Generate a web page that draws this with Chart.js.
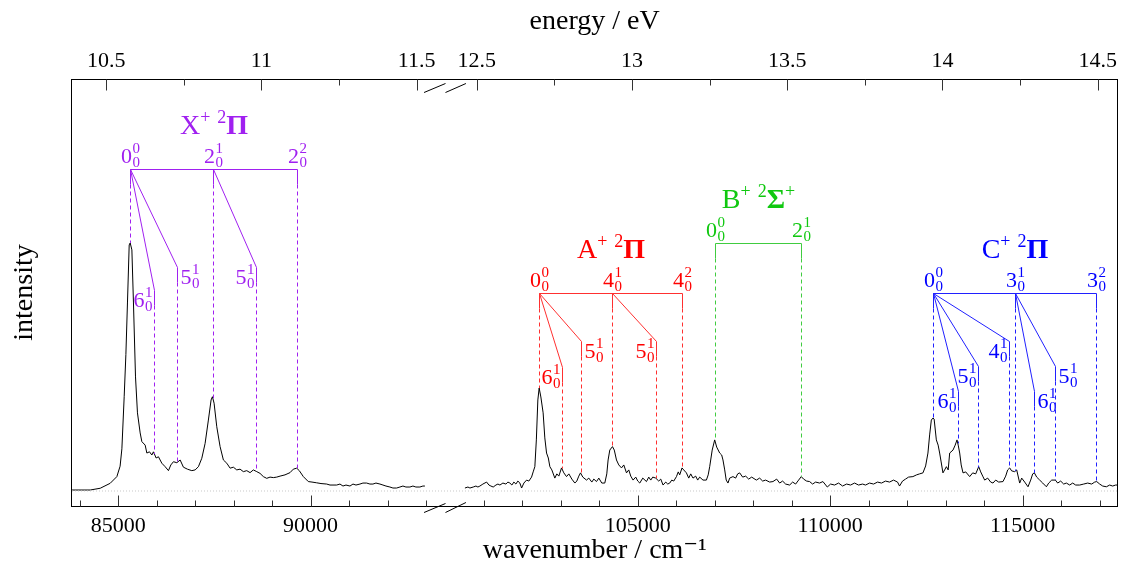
<!DOCTYPE html>
<html>
<head>
<meta charset="utf-8">
<script src="https://cdn.jsdelivr.net/npm/chart.js@4.4.1/dist/chart.umd.min.js"></script>
<style>
html,body{margin:0;padding:0;background:#fff;}
#wrap{width:1122px;height:569px;position:relative;}
</style>
</head>
<body>
<div id="wrap"><canvas id="c" width="1122" height="569"></canvas></div>
<script>
const FONT = "'Liberation Serif', 'DejaVu Serif', serif";
const CM_PER_EV = 8065.544;

// ---------- spectrum (wavenumber / cm^-1, normalised intensity) ----------
const wnLeft = [83800,84273,84533,84792,84966,85050,85096,85156,85200,85241,
  85286,85312,85356,85397,85450,85501,85571,85615,85701,85745,
  85813,85875,85916,85986,86046,86134,86220,86306,86368,86436,
  86524,86610,86695,86799,86913,86999,87085,87173,87259,87344,
  87414,87448,87492,87562,87648,87734,87822,87908,87993,88081,
  88167,88253,88341,88427,88512,88601,88686,88772,88860,88946,
  89032,89120,89206,89335,89465,89551,89639,89706,89811,89940,
  90036,90158,90270,90418,90504,90677,90763,90841,90919,91023,
  91101,91179,91282,91360,91456,91542,91620,91698,91802,91880,
  91958,92061,92139,92235,92321,92399,92477,92581,92659,92736,
  92840,92918,92970];
const intLeft = [0.004,0.004,0.011,0.031,0.058,0.100,0.170,0.380,0.550,0.758,
  0.992,1.000,0.972,0.758,0.460,0.315,0.234,0.199,0.185,0.153,
  0.158,0.145,0.158,0.133,0.138,0.112,0.098,0.082,0.105,0.118,
  0.114,0.125,0.096,0.088,0.082,0.085,0.098,0.132,0.192,0.286,
  0.367,0.380,0.354,0.259,0.179,0.125,0.112,0.092,0.096,0.085,
  0.088,0.078,0.082,0.074,0.085,0.078,0.071,0.058,0.051,0.056,
  0.054,0.056,0.060,0.065,0.074,0.088,0.092,0.082,0.058,0.038,
  0.036,0.033,0.030,0.028,0.024,0.024,0.028,0.020,0.024,0.020,
  0.028,0.024,0.028,0.032,0.032,0.028,0.028,0.032,0.028,0.024,
  0.020,0.016,0.012,0.012,0.016,0.020,0.016,0.016,0.020,0.016,
  0.016,0.020,0.020];

const wnRight = [100509,100587,100639,100724,100795,100846,100898,100976,101072,101132,
  101184,101244,101314,101366,101418,101496,101574,101626,101677,101729,
  101781,101833,101885,101937,101981,102041,102111,102170,102240,102282,
  102326,102365,102404,102438,102482,102541,102585,102630,102676,102716,
  102767,102845,102897,102949,103019,103079,103149,103209,103287,103365,
  103416,103468,103512,103572,103668,103728,103806,103858,103928,103988,
  104065,104143,104195,104229,104273,104343,104390,104447,104507,104577,
  104637,104707,104766,104818,104878,104948,105000,105052,105130,105226,
  105286,105337,105389,105467,105545,105597,105657,105727,105779,105831,
  105883,105935,106005,106052,106090,106150,106194,106264,106324,106376,
  106435,106505,106557,106609,106695,106783,106830,106869,106934,106999,
  107051,107129,107181,107214,107259,107298,107344,107388,107474,107544,
  107596,107648,107726,107804,107882,107960,108081,108167,108245,108323,
  108427,108513,108609,108687,108764,108842,108946,109024,109102,109180,
  109249,109309,109387,109465,109543,109621,109725,109811,109925,110010,
  110114,110218,110322,110426,110530,110633,110737,110841,110919,111023,
  111127,111231,111334,111438,111542,111646,111750,111802,111880,111958,
  112036,112149,112245,112323,112410,112480,112540,112584,112628,112670,
  112701,112758,112805,112844,112883,112930,112974,113019,113066,113105,
  113191,113248,113295,113326,113365,113404,113451,113521,113625,113703,
  113781,113859,113911,113963,114014,114092,114170,114230,114300,114378,
  114490,114560,114612,114664,114716,114794,114846,114924,114976,115054,
  115140,115210,115262,115306,115366,115444,115522,115618,115678,115756,
  115851,115911,115989,116067,116137,116223,116301,116379,116483,116587,
  116691,116795,116873,116925,117003,117081,117177,117262,117340,117418,
  117460];
const intRight = [0.012,0.016,0.012,0.016,0.020,0.016,0.020,0.028,0.036,0.024,
  0.020,0.016,0.024,0.028,0.024,0.032,0.028,0.036,0.032,0.024,
  0.036,0.028,0.040,0.032,0.012,0.032,0.044,0.040,0.056,0.077,
  0.098,0.206,0.367,0.415,0.379,0.315,0.214,0.153,0.133,0.098,
  0.085,0.052,0.069,0.060,0.093,0.073,0.058,0.069,0.048,0.032,
  0.040,0.060,0.073,0.056,0.044,0.052,0.036,0.048,0.038,0.052,
  0.032,0.032,0.069,0.125,0.165,0.179,0.165,0.125,0.105,0.093,
  0.105,0.073,0.085,0.060,0.044,0.056,0.040,0.032,0.052,0.038,
  0.056,0.044,0.056,0.052,0.040,0.048,0.024,0.036,0.028,0.032,
  0.044,0.040,0.058,0.077,0.065,0.093,0.085,0.073,0.052,0.069,
  0.052,0.060,0.044,0.056,0.044,0.044,0.065,0.098,0.165,0.206,
  0.177,0.153,0.145,0.125,0.085,0.044,0.032,0.052,0.058,0.052,
  0.069,0.073,0.056,0.060,0.048,0.056,0.044,0.052,0.040,0.044,
  0.036,0.038,0.048,0.032,0.040,0.028,0.024,0.036,0.028,0.044,
  0.058,0.048,0.040,0.038,0.028,0.036,0.032,0.038,0.016,0.028,
  0.024,0.032,0.020,0.028,0.024,0.032,0.024,0.028,0.024,0.032,
  0.028,0.036,0.032,0.040,0.036,0.044,0.036,0.020,0.040,0.048,
  0.056,0.058,0.065,0.069,0.073,0.101,0.153,0.226,0.286,0.294,
  0.290,0.206,0.185,0.153,0.117,0.073,0.085,0.098,0.085,0.153,
  0.165,0.185,0.206,0.185,0.153,0.105,0.073,0.077,0.058,0.073,
  0.069,0.098,0.077,0.060,0.044,0.052,0.036,0.032,0.044,0.036,
  0.038,0.060,0.085,0.093,0.081,0.078,0.085,0.032,0.052,0.036,
  0.017,0.044,0.069,0.073,0.056,0.044,0.032,0.017,0.032,0.044,
  0.044,0.032,0.040,0.028,0.032,0.024,0.032,0.024,0.024,0.028,
  0.032,0.028,0.036,0.038,0.028,0.020,0.017,0.024,0.020,0.024,
  0.024];

// ---------- axes ----------
const wnRange = [83800, 117460];
const wnBreak = [93000, 100509];
const wnTicks = [84000,85000,86000,87000,88000,89000,90000,91000,92000,93000,
  101000,102000,103000,104000,105000,106000,107000,108000,109000,110000,
  111000,112000,113000,114000,115000,116000,117000];
const evTicks = [10.5,10.75,11,11.25,11.5,12.5,12.75,13,13.25,13.5,13.75,14,14.25,14.5];

// ---------- vibronic assignments (cm^-1); labels are [main, sub, sup] ----------
const xProg = [85312, 87458, 89639];
const xProgLab = [['0','0','0'],['2','0','1'],['2','0','2']];
const xSubPos = [85942, 86524, 88575];
const xSubFrom = [0, 0, 1];
const xSubLab = [['6','0','1'],['5','0','1'],['5','0','1']];

const aProg = [102438, 104343, 106150];
const aProgLab = [['0','0','0'],['4','0','1'],['4','0','2']];
const aSubPos = [103027, 103512, 105467];
const aSubFrom = [0, 0, 1];
const aSubLab = [['6','0','1'],['5','0','1'],['5','0','1']];

const bProg = [106999, 109249];
const bProgLab = [['0','0','0'],['2','0','1']];
const bSubPos = [];
const bSubFrom = [];
const bSubLab = [];

const cProg = [112667, 114813, 116916];
const cProgLab = [['0','0','0'],['3','0','1'],['3','0','2']];
const cSubPos = [113316, 113852, 114657, 115299, 115844];
const cSubFrom = [0, 0, 0, 1, 1];
const cSubLab = [['6','0','1'],['5','0','1'],['4','0','1'],['6','0','1'],['5','0','1']];

const stateTitles = [
  [['X'],['+','sup'],[' '],['2','sup'],['Π']],
  [['A'],['+','sup'],[' '],['2','sup'],['Π']],
  [['B'],['+','sup'],[' '],['2','sup'],['Σ'],['+','sup']],
  [['C'],['+','sup'],[' '],['2','sup'],['Π']]
];

// ---------- layout / style of the assignment combs ----------
// 'right' = label right-aligned against the stub (sits on its left side)
const combStyle = [
  {text:'#A020F0', line:'#A020F0', comb:1.30, stubs:[0.81,0.905,0.905], sides:['right','left','right']},
  {text:'#FF0000', line:'#FF3030', comb:0.80, stubs:[0.50,0.605,0.605], sides:['right','left','right']},
  {text:'#10C810', line:'#40CC40', comb:1.00, stubs:[], sides:[]},
  {text:'#0000FF', line:'#2020FF', comb:0.80, stubs:[0.405,0.505,0.605,0.405,0.505], sides:['right','right','right','left','left']}
];

const systems = [
  {prog:xProg, progLab:xProgLab, subPos:xSubPos, subFrom:xSubFrom, subLab:xSubLab, title:stateTitles[0], st:combStyle[0]},
  {prog:aProg, progLab:aProgLab, subPos:aSubPos, subFrom:aSubFrom, subLab:aSubLab, title:stateTitles[1], st:combStyle[1]},
  {prog:bProg, progLab:bProgLab, subPos:bSubPos, subFrom:bSubFrom, subLab:bSubLab, title:stateTitles[2], st:combStyle[2]},
  {prog:cProg, progLab:cProgLab, subPos:cSubPos, subFrom:cSubFrom, subLab:cSubLab, title:stateTitles[3], st:combStyle[3]}
];

// ---------- broken linear scale ----------
const GAP_UNITS = 1010; // visual width of the axis break, in cm^-1 equivalents
function compress(v) {
  if (v <= wnBreak[0]) return v;
  if (v >= wnBreak[1]) return v - (wnBreak[1] - wnBreak[0]) + GAP_UNITS;
  return wnBreak[0] + (v - wnBreak[0]) / (wnBreak[1] - wnBreak[0]) * GAP_UNITS;
}
function decompress(u) {
  if (u <= wnBreak[0]) return u;
  if (u >= wnBreak[0] + GAP_UNITS) return u + (wnBreak[1] - wnBreak[0]) - GAP_UNITS;
  return wnBreak[0] + (u - wnBreak[0]) / GAP_UNITS * (wnBreak[1] - wnBreak[0]);
}
const LinearBase = Chart.LinearScale || Chart.registry.getScale('linear');
class BrokenScale extends LinearBase {
  getPixelForValue(value) {
    const a = compress(this.min), b = compress(this.max);
    return this.getPixelForDecimal((compress(value) - a) / (b - a));
  }
  getValueForPixel(pixel) {
    const a = compress(this.min), b = compress(this.max);
    return decompress(a + this.getDecimalForPixel(pixel) * (b - a));
  }
}
BrokenScale.id = 'broken';
BrokenScale.defaults = LinearBase.defaults;
Chart.register(BrokenScale);

// ---------- helpers ----------
function spectrumAt(w) {
  const xs = w <= wnBreak[0] ? wnLeft : wnRight;
  const ys = w <= wnBreak[0] ? intLeft : intRight;
  if (w <= xs[0]) return ys[0];
  for (let i = 1; i < xs.length; i++) {
    if (w <= xs[i]) {
      const t = (w - xs[i-1]) / (xs[i] - xs[i-1]);
      return ys[i-1] + t * (ys[i] - ys[i-1]);
    }
  }
  return ys[ys.length-1];
}
function seg(ctx, x1, y1, x2, y2, dash) {
  ctx.setLineDash(dash || []);
  ctx.beginPath(); ctx.moveTo(x1, y1); ctx.lineTo(x2, y2); ctx.stroke();
}
function drawRich(ctx, segs, cx, baseline, size, color) {
  const parts = segs.map(([t, kind]) => {
    const small = kind === 'sup';
    const fs = small ? Math.round(size * 0.66) : size;
    const bold = /[\u0391-\u03A9]/.test(t);
    const font = (bold ? 'bold ' : '') + fs + 'px ' + FONT;
    ctx.font = font;
    return {t, font, w: ctx.measureText(t).width, dy: small ? -Math.round(size * 0.4) : 0};
  });
  const total = parts.reduce((a, p) => a + p.w, 0);
  let x = cx - total / 2;
  ctx.fillStyle = color; ctx.textAlign = 'left'; ctx.textBaseline = 'alphabetic';
  parts.forEach(p => { ctx.font = p.font; ctx.fillText(p.t, x, baseline + p.dy); x += p.w; });
}
function drawLevel(ctx, lab, x, baseline, anchor, color) {
  const [main, sub, sup] = lab;
  ctx.font = '22px ' + FONT; const wm = ctx.measureText(main).width;
  ctx.font = '15px ' + FONT; const ws = Math.max(ctx.measureText(sub).width, ctx.measureText(sup).width);
  const tw = wm + ws + 0.5;
  const x0 = anchor === 'center' ? x - tw / 2 : (anchor === 'right' ? x - tw : x);
  ctx.fillStyle = color; ctx.textAlign = 'left'; ctx.textBaseline = 'alphabetic';
  ctx.font = '22px ' + FONT; ctx.fillText(main, x0, baseline);
  ctx.font = '15px ' + FONT;
  ctx.fillText(sup, x0 + wm + 0.5, baseline - 10);
  ctx.fillText(sub, x0 + wm + 0.5, baseline + 4);
}
const LEG = 15;

const assignmentPlugin = {
  id: 'assignments',
  afterDatasetsDraw(chart) {
    const ctx = chart.ctx, xs = chart.scales.x, ys = chart.scales.y;
    ctx.save();
    ctx.lineWidth = 1;
    systems.forEach(s => {
      const st = s.st;
      const cy = Math.round(ys.getPixelForValue(st.comb)) + 0.5;
      const px = s.prog.map(w => Math.round(xs.getPixelForValue(w)) + 0.5);
      ctx.strokeStyle = st.line;
      seg(ctx, px[0], cy, px[px.length-1], cy);
      px.forEach((x, i) => {
        seg(ctx, x, cy, x, cy + LEG);
        seg(ctx, x, cy + LEG, x, ys.getPixelForValue(spectrumAt(s.prog[i])), [4, 3]);
      });
      s.subPos.forEach((w, j) => {
        const x0 = px[s.subFrom[j]];
        const x1 = Math.round(xs.getPixelForValue(w)) + 0.5;
        const y1 = Math.round(ys.getPixelForValue(st.stubs[j])) + 0.5;
        ctx.strokeStyle = st.line;
        seg(ctx, x0, cy, x1, y1);
        seg(ctx, x1, y1, x1, y1 + LEG);
        seg(ctx, x1, y1 + LEG, x1, ys.getPixelForValue(spectrumAt(w)), [4, 3]);
        const anchor = st.sides[j];
        drawLevel(ctx, s.subLab[j], anchor === 'right' ? x1 - 2 : x1 + 3, y1 + 16, anchor === 'right' ? 'right' : 'left', st.text);
      });
      ctx.setLineDash([]);
      px.forEach((x, i) => drawLevel(ctx, s.progLab[i], x, cy - 7, 'center', st.text));
      drawRich(ctx, s.title, (px[0] + px[px.length-1]) / 2, cy - 36, 28, st.text);
    });
    ctx.restore();
  },
  afterDraw(chart) {
    const ctx = chart.ctx, xs = chart.scales.x, xt = chart.scales.xTop;
    const {left, right, top, bottom} = chart.chartArea;
    ctx.save();
    ctx.lineWidth = 1; ctx.strokeStyle = '#000'; ctx.setLineDash([]);
    const L = Math.round(left) - 0.5, R = Math.round(right) + 0.5, T = Math.round(top) + 0.5, B = Math.round(bottom) + 0.5;
    ctx.strokeRect(L, T, R - L, B - T);
    ctx.strokeStyle = '#333';
    xs.ticks.forEach(t => {
      const p = Math.round(xs.getPixelForValue(t.value)) + 0.5;
      seg(ctx, p, B, p, B - (t.label ? 11 : 6));
    });
    xt.ticks.forEach(t => {
      const p = Math.round(xt.getPixelForValue(t.value)) + 0.5;
      seg(ctx, p, T, p, T + (t.label ? 11 : 6));
    });
    const pL = xs.getPixelForValue(wnBreak[0]), pR = xs.getPixelForValue(wnBreak[1]);
    const mid = (pL + pR) / 2;
    ctx.strokeStyle = '#000';
    seg(ctx, pL - 2, B + 6, mid, B - 3);
    seg(ctx, mid, B + 6, pR + 1, B - 4);
    seg(ctx, pL - 2, T + 13, mid, T + 4);
    seg(ctx, mid, T + 13, pR + 1, T + 4);
    ctx.restore();
  }
};

const tickFont = {family: FONT, size: 22};
const titleFont = {family: FONT, size: 28};

new Chart(document.getElementById('c'), {
  type: 'line',
  data: {
    datasets: [
      {data: [{x: wnRange[0], y: 0}, {x: wnRange[1], y: 0}], borderColor: '#c8c8c8', borderWidth: 1, borderDash: [1, 2], pointRadius: 0},
      {data: wnLeft.map((w, i) => ({x: w, y: intLeft[i]})), borderColor: '#000', borderWidth: 1, pointRadius: 0, tension: 0},
      {data: wnRight.map((w, i) => ({x: w, y: intRight[i]})), borderColor: '#000', borderWidth: 1, pointRadius: 0, tension: 0}
    ]
  },
  options: {
    responsive: false,
    animation: false,
    devicePixelRatio: 1,
    layout: {padding: {left: 0, right: 4, top: 0, bottom: 0}},
    plugins: {legend: {display: false}, tooltip: {enabled: false}},
    scales: {
      x: {
        type: 'broken', position: 'bottom', min: wnRange[0], max: wnRange[1],
        afterBuildTicks: s => { s.ticks = wnTicks.map(v => ({value: v})); },
        afterFit: s => { s.height = 63; },
        grid: {display: false, drawTicks: false}, border: {display: false},
        ticks: {autoSkip: false, maxRotation: 0, minRotation: 0, padding: 7, color: '#000', font: tickFont,
          callback: v => (v % 5000 === 0 ? String(v) : '')},
        title: {display: true, text: 'wavenumber / cm⁻¹', color: '#000', font: titleFont, padding: {top: 0, bottom: 2}}
      },
      xTop: {
        type: 'broken', position: 'top', min: wnRange[0], max: wnRange[1],
        afterBuildTicks: s => { s.ticks = evTicks.map(e => ({value: e * CM_PER_EV})); },
        afterFit: s => { s.height = 79; },
        grid: {display: false, drawTicks: false}, border: {display: false},
        ticks: {autoSkip: false, maxRotation: 0, minRotation: 0, padding: 5, color: '#000', font: tickFont,
          callback: v => { const e = v / CM_PER_EV; const r = Math.round(e * 2) / 2; return Math.abs(e - r) < 1e-6 ? String(r) : ''; }},
        title: {display: true, text: 'energy / eV', color: '#000', font: titleFont, padding: {top: 5, bottom: 0}}
      },
      y: {
        type: 'linear', position: 'left', min: -0.0605, max: 1.661,
        afterFit: s => { s.width = 72; },
        grid: {display: false, drawTicks: false}, border: {display: false},
        ticks: {display: false},
        title: {display: true, text: 'intensity', color: '#000', font: titleFont, padding: {top: 8, bottom: 0}}
      }
    }
  },
  plugins: [assignmentPlugin]
});
</script>
</body>
</html>
